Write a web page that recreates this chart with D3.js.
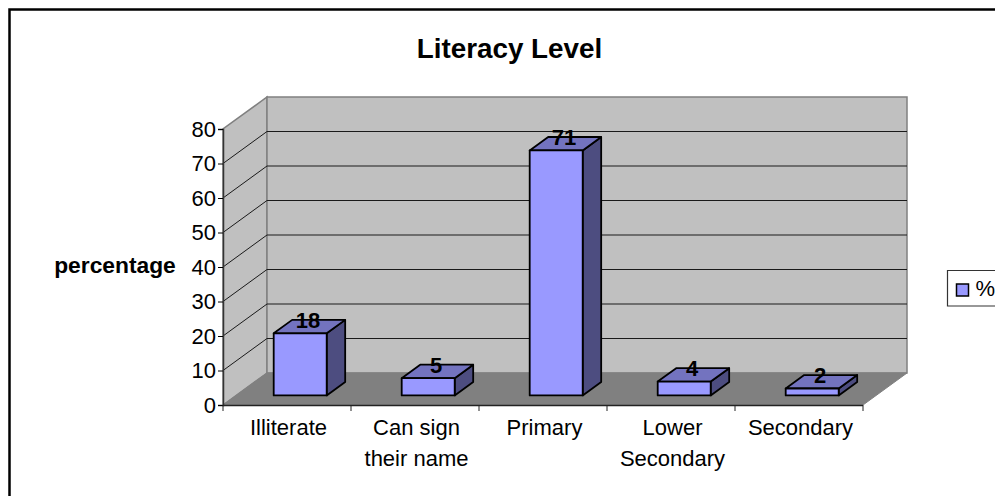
<!DOCTYPE html>
<html>
<head>
<meta charset="utf-8">
<script src="https://cdn.jsdelivr.net/npm/d3@7"></script>
<style>
  html, body { margin: 0; padding: 0; background: #fff; overflow: hidden; }
  text { font-family: "Liberation Sans", Arial, sans-serif; fill: #000; }
</style>
</head>
<body>
<svg id="chart" width="995" height="496"></svg>
<script>
const categories = ['Illiterate', 'Can sign their name', 'Primary', 'Lower Secondary', 'Secondary'];
const values = [18, 5, 71, 4, 2];
const yTicks = [0, 10, 20, 30, 40, 50, 60, 70, 80];
const title = 'Literacy Level';
const yTitle = 'percentage';
const seriesName = '%';

const svg = d3.select('#chart');

// front plane of the 3d box, depth goes up and to the right
const x0 = 223, x1 = 863, y0 = 405, y1 = 129;
const depthX = 44, depthY = -32;

const xscale = d3.scaleBand().domain(categories).range([x0, x1]);
const yscale = d3.scaleLinear().domain([0, 80]).range([y0, y1]);
// 0 = front of the floor, 1 = back wall
const pr = (x, y, d) => [x + depthX * d, y + depthY * d];
const poly = pts => pts.map(p => p.join(',')).join(' ');

// outer frame, only the top and left edges are in the picture
svg.append('path')
    .attr('d', 'M9.5,496V9.5H995')
    .attr('fill', 'none')
    .attr('stroke', '#000')
    .attr('stroke-width', 2.5);

svg.append('text')
    .attr('x', 509.5).attr('y', 58)
    .attr('text-anchor', 'middle')
    .style('font-size', '27.8px').style('font-weight', 'bold')
    .text(title);

// walls and floor
svg.append('polygon')
    .attr('points', poly([pr(x0, y0, 0), pr(x0, y1, 0), pr(x0, y1, 1), pr(x0, y0, 1)]))
    .attr('fill', '#c0c0c0').attr('stroke', '#808080').attr('stroke-width', 1.5);
svg.append('polygon')
    .attr('points', poly([pr(x0, y0, 1), pr(x0, y1, 1), pr(x1, y1, 1), pr(x1, y0, 1)]))
    .attr('fill', '#c0c0c0').attr('stroke', '#808080').attr('stroke-width', 1.5);
svg.append('polygon')
    .attr('points', poly([pr(x0, y0, 0), pr(x0, y0, 1), pr(x1, y0, 1), pr(x1, y0, 0)]))
    .attr('fill', '#808080').attr('stroke', '#808080');

// gridlines on side and back wall
const grid = svg.append('g');
yTicks.filter(t => t > 0 && t < 80).forEach(t => {
    const a = pr(x0, yscale(t), 0), b = pr(x0, yscale(t), 1), c = pr(x1, yscale(t), 1);
    grid.append('polyline')
        .attr('points', poly([a, b, c]))
        .attr('fill', 'none').attr('stroke', '#1a1a1a').attr('stroke-width', 1);
});

// axes
const yaxis = d3.axisLeft(yscale).tickValues(yTicks).tickSize(5).tickPadding(2);
const yg = svg.append('g').attr('transform', `translate(${x0},0)`).call(yaxis);
yg.select('.domain').attr('stroke', '#333').attr('stroke-width', 1.5);
yg.selectAll('text').style('font-size', '22px');

const xg = svg.append('g');
xg.append('line')
    .attr('x1', x0).attr('x2', x1).attr('y1', y0 + 0.5).attr('y2', y0 + 0.5)
    .attr('stroke', '#222').attr('stroke-width', 1.5);
[...categories.map(c => xscale(c)), x1].forEach(x => {
    xg.append('line')
        .attr('x1', x).attr('x2', x).attr('y1', y0).attr('y2', y0 + 6)
        .attr('stroke', '#222');
});

// category labels, wrapped to what fits in one band
const labelLines = { 'Can sign their name': ['Can sign', 'their name'], 'Lower Secondary': ['Lower', 'Secondary'] };
categories.forEach(c => {
    const lines = labelLines[c] || [c];
    lines.forEach((l, i) => {
        svg.append('text')
            .attr('x', xscale(c) + xscale.bandwidth() / 2 + 1.5)
            .attr('y', 435 + i * 31)
            .attr('text-anchor', 'middle')
            .style('font-size', '22px')
            .text(l);
    });
});

// y title
svg.append('text')
    .attr('x', 115).attr('y', 273)
    .attr('text-anchor', 'middle')
    .style('font-size', '22.8px').style('font-weight', 'bold')
    .text(yTitle);

// bars
const barWidth = 53, barFront = 0.3, barBack = 0.72;
const bars = svg.append('g').selectAll('g')
    .data(categories.map((c, i) => ({ c, v: values[i] })))
    .join('g')
    .attr('stroke', '#000').attr('stroke-width', 1.8).attr('stroke-linejoin', 'round');

const bx = d => xscale(d.c) + (xscale.bandwidth() - barWidth) / 2;

bars.append('polygon') // side
    .attr('fill', '#4d4d80')
    .attr('points', d => {
        const r = bx(d) + barWidth;
        return poly([pr(r, y0, barFront), pr(r, yscale(d.v), barFront), pr(r, yscale(d.v), barBack), pr(r, y0, barBack)]);
    });
bars.append('polygon') // top
    .attr('fill', '#7373bf')
    .attr('points', d => {
        const l = bx(d), r = l + barWidth, t = yscale(d.v);
        return poly([pr(l, t, barFront), pr(l, t, barBack), pr(r, t, barBack), pr(r, t, barFront)]);
    });
bars.append('polygon') // front
    .attr('fill', '#9999ff')
    .attr('points', d => {
        const l = bx(d), r = l + barWidth, t = yscale(d.v);
        return poly([pr(l, y0, barFront), pr(l, t, barFront), pr(r, t, barFront), pr(r, y0, barFront)]);
    });

// value labels sit on top of the bars
svg.append('g').selectAll('text')
    .data(categories.map((c, i) => ({ c, v: values[i] })))
    .join('text')
    .attr('x', d => pr(bx(d) + barWidth / 2, 0, 0.5)[0] - 1)
    .attr('y', d => yscale(d.v) - 15)
    .attr('text-anchor', 'middle')
    .style('font-size', '22px').style('font-weight', 'bold')
    .text(d => d.v);

// legend runs off the right edge
svg.append('path')
    .attr('d', 'M995,270.5H947.5V306H995')
    .attr('fill', 'none').attr('stroke', '#333').attr('stroke-width', 1.2);
svg.append('rect')
    .attr('x', 956.5).attr('y', 284).attr('width', 12).attr('height', 12)
    .attr('fill', '#9999ff').attr('stroke', '#000').attr('stroke-width', 1.5);
svg.append('text')
    .attr('x', 975.5).attr('y', 296)
    .style('font-size', '22px')
    .text(seriesName);
</script>
</body>
</html>
